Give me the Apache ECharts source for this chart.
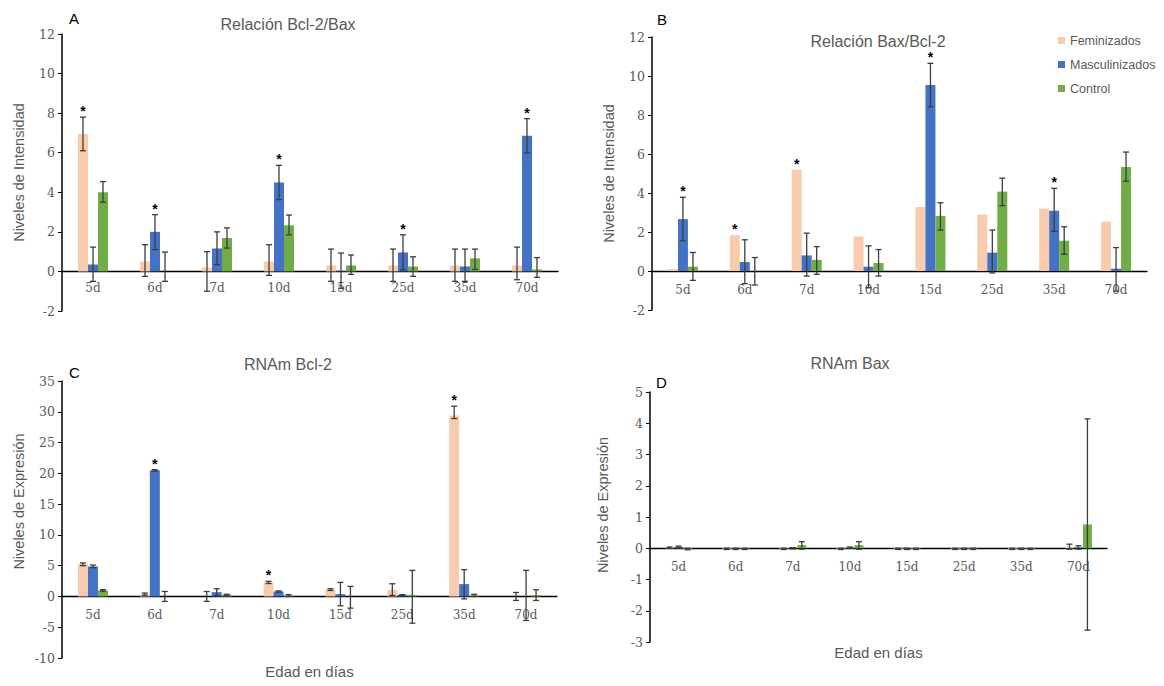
<!DOCTYPE html>
<html>
<head>
<meta charset="utf-8">
<script src="https://cdn.jsdelivr.net/npm/echarts@6/dist/echarts.min.js"></script>
<style>
  html, body { margin: 0; padding: 0; background: #fff; }
  #chart { width: 1164px; height: 686px; }
</style>
</head>
<body>
<div id="chart"></div>
<script>
const categories = ['5d', '6d', '7d', '10d', '15d', '25d', '35d', '70d']
const groups = ['Feminizados', 'Masculinizados', 'Control']
const colors = ['#F8CBAD', '#4472C4', '#70AD47']

// A - Relación Bcl-2/Bax
const aFem = [6.95, 0.5, 0.2, 0.5, 0.3, 0.3, 0.3, 0.3]
const aFemLo = [6.1, -0.25, -1.0, -0.2, -0.5, -0.5, -0.5, -0.42]
const aFemHi = [7.8, 1.35, 1.0, 1.35, 1.13, 1.13, 1.13, 1.23]
const aMas = [0.35, 2.0, 1.16, 4.5, 0.03, 0.96, 0.25, 6.86]
const aMasLo = [-0.5, 1.1, 0.34, 3.63, -0.85, 0.08, -0.5, 5.99]
const aMasHi = [1.23, 2.87, 2.0, 5.36, 0.93, 1.85, 1.13, 7.72]
const aCon = [4.0, 0.0, 1.69, 2.33, 0.3, 0.25, 0.66, 0.1]
const aConLo = [3.5, -0.5, 1.18, 1.85, -0.15, -0.25, 0.1, -0.3]
const aConHi = [4.54, 0.98, 2.2, 2.85, 0.83, 0.74, 1.13, 0.7]
const aStars = [[0, 0], [1, 1], [3, 1], [5, 1], [7, 1]]

// B - Relación Bax/Bcl-2
const bFem = [0.1, 1.84, 5.19, 1.77, 3.28, 2.9, 3.2, 2.53]
const bMas = [2.66, 0.46, 0.8, 0.22, 9.54, 0.94, 3.09, 0.12]
const bMasLo = [1.55, -0.65, -0.26, -0.86, 8.42, -0.1, 2.03, -1.03]
const bMasHi = [3.78, 1.6, 1.94, 1.29, 10.65, 2.1, 4.24, 1.2]
const bCon = [0.22, 0.0, 0.57, 0.41, 2.83, 4.07, 1.55, 5.33]
const bConLo = [-0.48, -0.72, -0.17, -0.26, 2.1, 3.35, 0.86, 4.6]
const bConHi = [0.95, 0.69, 1.25, 1.1, 3.5, 4.76, 2.27, 6.1]
const bStars = [[0, 1], [1, 0], [2, 0], [4, 1], [6, 1]]

// C - RNAm Bcl-2
const cFem = [5.26, 0.38, 0.0, 2.28, 1.08, 1.1, 29.4, 0.0]
const cFemLo = [5.0, 0.2, -0.8, 2.1, 0.98, 0.16, 28.9, -0.65]
const cFemHi = [5.45, 0.55, 0.8, 2.45, 1.25, 2.06, 30.9, 0.65]
const cMas = [4.88, 20.5, 0.7, 0.81, 0.38, 0.25, 2.0, 0.0]
const cMasLo = [4.67, 20.35, 0.16, 0.7, -1.52, 0.2, -0.4, -3.9]
const cMasHi = [5.1, 20.6, 1.25, 0.9, 2.28, 0.3, 4.34, 4.23]
const cCon = [0.98, 0.0, 0.27, 0.16, 0.0, 0.25, 0.16, 0.2]
const cConLo = [0.85, -0.81, 0.2, 0.0, -1.9, -4.34, 0.0, -0.65]
const cConHi = [1.1, 0.81, 0.35, 0.3, 1.63, 4.23, 0.35, 1.08]
const cStars = [[1, 1], [3, 0], [6, 0]]

// D - RNAm Bax
const dFem = [0.02, -0.02, -0.02, -0.02, -0.02, -0.02, -0.02, 0.05]
const dFemLo = [0.0, -0.04, -0.04, -0.04, -0.04, -0.04, -0.04, -0.03]
const dFemHi = [0.04, 0.0, 0.0, 0.0, 0.0, 0.0, 0.0, 0.13]
const dMas = [0.04, -0.02, 0.0, 0.02, -0.02, -0.02, -0.02, 0.03]
const dMasLo = [0.01, -0.04, -0.02, 0.0, -0.04, -0.04, -0.04, -0.03]
const dMasHi = [0.07, 0.0, 0.02, 0.04, 0.0, 0.0, 0.0, 0.08]
const dCon = [-0.03, -0.02, 0.1, 0.1, -0.02, -0.02, -0.02, 0.76]
const dConLo = [-0.05, -0.04, -0.03, -0.03, -0.04, -0.04, -0.04, -2.62]
const dConHi = [0.0, 0.0, 0.21, 0.21, 0.0, 0.0, 0.0, 4.14]

const grey = '#595959'
const sans = 'Liberation Sans'
const serif = 'DejaVu Serif'

const panels = [
  { vals: [aFem, aMas, aCon], lo: [aFemLo, aMasLo, aConLo], hi: [aFemHi, aMasHi, aConHi], stars: aStars,
    grid: { left: 62, top: 34, width: 496, height: 277 }, min: -2, max: 12, interval: 2,
    yName: 'Niveles de Intensidad', namePad: 0, nameGap: 36, barW: 10, labelGap: 11 },
  { vals: [bFem, bMas, bCon], lo: [null, bMasLo, bConLo], hi: [null, bMasHi, bConHi], stars: bStars,
    grid: { left: 652, top: 37, width: 495, height: 273 }, min: -2, max: 12, interval: 2,
    yName: 'Niveles de Intensidad', namePad: 0, nameGap: 36, barW: 10, labelGap: 13 },
  { vals: [cFem, cMas, cCon], lo: [cFemLo, cMasLo, cConLo], hi: [cFemHi, cMasHi, cConHi], stars: cStars,
    grid: { left: 62, top: 381, width: 495, height: 277 }, min: -10, max: 35, interval: 5,
    yName: 'Niveles de Expresión', namePad: 36, nameGap: 36, barW: 10, labelGap: 13,
    xName: 'Edad en días', xGap: 6 },
  { vals: [dFem, dMas, dCon], lo: [dFemLo, dMasLo, dConLo], hi: [dFemHi, dMasHi, dConHi], stars: [],
    grid: { left: 650, top: 392, width: 457, height: 250 }, min: -3, max: 5, interval: 1,
    yName: 'Niveles de Expresión', namePad: 24, nameGap: 40, barW: 9, labelGap: 13,
    xName: 'Edad en días', xGap: 3 }
]

const makeErrRender = (barW) => (params, api) => {
  const cat = api.value(0)
  const g = api.value(3)
  const pLo = api.coord([cat, api.value(1)])
  const pHi = api.coord([cat, api.value(2)])
  const x = pLo[0] + (g - 1) * barW
  const style = { stroke: '#3d3d3d', lineWidth: 1.3 }
  return {
    type: 'group',
    children: [
      { type: 'line', shape: { x1: x, y1: pLo[1], x2: x, y2: pHi[1] }, style },
      { type: 'line', shape: { x1: x - 3, y1: pHi[1], x2: x + 3, y2: pHi[1] }, style },
      { type: 'line', shape: { x1: x - 3, y1: pLo[1], x2: x + 3, y2: pLo[1] }, style }
    ]
  }
}

const makeStarRender = (barW) => (params, api) => {
  const cat = api.value(0)
  const g = api.value(2)
  const p = api.coord([cat, api.value(1)])
  return {
    type: 'text',
    x: p[0] + (g - 1) * barW,
    y: p[1] + 1,
    style: { text: '*', fill: '#000', font: 'bold 14px ' + sans, align: 'center', verticalAlign: 'bottom' }
  }
}

const grids = [], xAxes = [], yAxes = [], series = []
panels.forEach((p, i) => {
  grids.push(Object.assign({ outerBoundsMode: 'none' }, p.grid))
  // labels sit under the zero line, not at the grid bottom
  const zeroToBottom = p.grid.height * (0 - p.min) / (p.max - p.min)
  xAxes.push({
    type: 'category', gridIndex: i, data: categories,
    axisLine: { onZero: true, lineStyle: { color: '#000', width: 1.3 } },
    axisTick: { show: false },
    axisLabel: { color: grey, fontFamily: serif, fontSize: 12, margin: p.labelGap - zeroToBottom },
    name: p.xName || '', nameLocation: 'middle', nameGap: p.xGap || 0, nameMoveOverlap: false,
    nameTextStyle: { color: grey, fontFamily: sans, fontSize: 15 }
  })
  yAxes.push({
    type: 'value', gridIndex: i, min: p.min, max: p.max, interval: p.interval,
    axisLine: { show: true, lineStyle: { color: '#000', width: 1.5 } },
    axisTick: { show: true, length: 4, lineStyle: { color: '#000' } },
    splitLine: { show: false },
    axisLabel: { color: grey, fontFamily: serif, fontSize: 12.5, margin: 7 },
    name: p.yName, nameLocation: 'middle', nameGap: p.nameGap, nameMoveOverlap: false,
    nameTextStyle: { color: grey, fontFamily: sans, fontSize: 14.5, padding: [0, 0, 0, p.namePad] }
  })
  groups.forEach((name, g) => {
    series.push({
      name, type: 'bar', xAxisIndex: i, yAxisIndex: i,
      data: p.vals[g], barWidth: p.barW, barGap: '0%',
      itemStyle: { color: colors[g] }
    })
  })
  const errData = []
  groups.forEach((name, g) => {
    if (!p.lo[g]) return
    p.lo[g].forEach((lo, c) => errData.push([c, lo, p.hi[g][c], g]))
  })
  series.push({
    type: 'custom', xAxisIndex: i, yAxisIndex: i, z: 5,
    renderItem: makeErrRender(p.barW), encode: { x: 0, y: [1, 2] }, data: errData
  })
  if (p.stars.length) {
    series.push({
      type: 'custom', xAxisIndex: i, yAxisIndex: i, z: 6,
      renderItem: makeStarRender(p.barW), encode: { x: 0, y: 1 },
      data: p.stars.map(([c, g]) => [c, p.hi[g] ? p.hi[g][c] : p.vals[g][c], g])
    })
  }
})

const titleStyle = { color: grey, fontFamily: sans, fontSize: 16, fontWeight: 'normal' }
const letterStyle = { color: '#000', fontFamily: sans, fontSize: 15, fontWeight: 'normal' }

const chart = echarts.init(document.getElementById('chart'), null, { renderer: 'svg' })
chart.setOption({
  animation: false,
  backgroundColor: '#fff',
  title: [
    { text: 'Relación Bcl-2/Bax', left: 283, top: 11, textAlign: 'center', textStyle: titleStyle },
    { text: 'Relación Bax/Bcl-2', left: 873, top: 28, textAlign: 'center', textStyle: titleStyle },
    { text: 'RNAm Bcl-2', left: 283, top: 351, textAlign: 'center', textStyle: titleStyle },
    { text: 'RNAm Bax', left: 845, top: 350, textAlign: 'center', textStyle: titleStyle },
    { text: 'A', left: 64, top: 6, textStyle: letterStyle },
    { text: 'B', left: 652, top: 7, textStyle: letterStyle },
    { text: 'C', left: 64, top: 360, textStyle: letterStyle },
    { text: 'D', left: 651, top: 370, textStyle: letterStyle }
  ],
  legend: {
    data: groups, orient: 'vertical', left: 1053, top: 29,
    icon: 'rect', itemWidth: 7, itemHeight: 7, itemGap: 11,
    textStyle: { color: grey, fontFamily: sans, fontSize: 12.5 }
  },
  grid: grids,
  xAxis: xAxes,
  yAxis: yAxes,
  series
})
</script>
</body>
</html>
